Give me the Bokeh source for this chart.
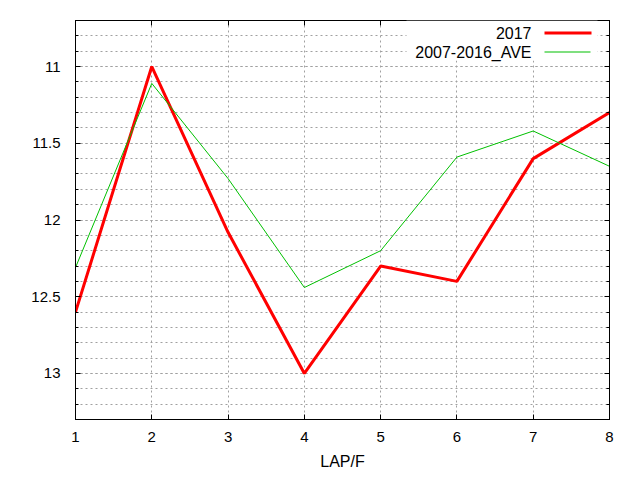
import numpy as np
from bokeh.plotting import figure
from bokeh.models import Range1d, FixedTicker, LinearAxis, Label, BoxAnnotation
from bokeh.embed import file_html
from bokeh.resources import INLINE

laps = [1, 2, 3, 4, 5, 6, 7, 8]
y2017 = [12.60, 11.00, 12.08, 13.00, 12.30, 12.40, 11.60, 11.30]
ave_2007_2016 = [12.31, 11.11, 11.73, 12.44, 12.20, 11.59, 11.42, 11.65]
series_names = ["2017", "2007-2016_AVE"]
y_major = [11, 11.5, 12, 12.5, 13]
y_minor = [round(v, 1) for v in np.arange(10.7, 13.31, 0.1)]
x_major = laps

FONT = "Liberation Sans"
FS = "15px"
FS_BIG = "16px"

p = figure(width=640, height=480, output_backend="svg", toolbar_location=None,
           x_range=Range1d(1, 8), y_range=Range1d(13.3, 10.7),
           min_border_left=75, min_border_right=31, min_border_top=20, min_border_bottom=61)
p.background_fill_color = "white"
p.border_fill_color = "white"
p.outline_line_color = "black"
p.outline_line_width = 1

p.xaxis.ticker = FixedTicker(ticks=x_major)
p.yaxis.ticker = FixedTicker(ticks=y_major, minor_ticks=y_minor)

for ax in (p.xaxis[0], p.yaxis[0]):
    ax.axis_line_color = "black"
    ax.major_tick_in = 5
    ax.major_tick_out = 0
    ax.minor_tick_in = 3
    ax.minor_tick_out = 0
    ax.major_tick_line_color = "black"
    ax.minor_tick_line_color = "black"
    ax.major_label_text_font = FONT
    ax.major_label_text_font_size = FS
    ax.major_label_text_color = "black"
    ax.axis_label_text_font = FONT
    ax.axis_label_text_font_size = FS_BIG
    ax.axis_label_text_font_style = "normal"
    ax.axis_label_text_color = "black"

p.xaxis.minor_tick_line_color = None
p.xaxis.major_label_standoff = 12
p.xaxis.axis_label = "LAP/F"
p.xaxis.axis_label_standoff = 8
p.yaxis.major_label_standoff = 15

# mirrored ticks (no labels)
top = LinearAxis(ticker=FixedTicker(ticks=x_major), major_tick_in=5, major_tick_out=0,
                 minor_tick_line_color=None, major_label_standoff=0,
                 major_label_overrides={t: "" for t in x_major}, axis_line_color="black")
right = LinearAxis(ticker=FixedTicker(ticks=y_major, minor_ticks=y_minor), major_tick_in=5,
                   major_tick_out=0, minor_tick_in=3, minor_tick_out=0, major_label_standoff=0,
                   major_label_overrides={t: "" for t in y_major}, axis_line_color="black")
p.add_layout(top, "above")
p.add_layout(right, "right")

for g in (p.xgrid[0], p.ygrid[0]):
    g.grid_line_color = "#a0a0a0"
    g.grid_line_dash = "2 3"
    g.grid_line_width = 1
p.ygrid.minor_grid_line_color = "#a0a0a0"
p.ygrid.minor_grid_line_dash = "2 3"

r1 = p.line(laps, y2017, line_color="#ff0000", line_width=3)
r2 = p.line(laps, ave_2007_2016, line_color="#00c000", line_width=1)

# gnuplot-style key: text right-aligned, sample to its right (screen units relative to frame)
p.add_layout(BoxAnnotation(left=331, right=522, top=399, bottom=359,
                           left_units="screen", right_units="screen",
                           top_units="screen", bottom_units="screen",
                           fill_color="white", fill_alpha=1, line_color=None))
p.add_layout(BoxAnnotation(left=469, right=516, top=388, bottom=385,
                           left_units="screen", right_units="screen",
                           top_units="screen", bottom_units="screen",
                           fill_color="#ff0000", fill_alpha=1, line_color=None))
p.add_layout(BoxAnnotation(left=469, right=515, top=368, bottom=367,
                           left_units="screen", right_units="screen",
                           top_units="screen", bottom_units="screen",
                           fill_color="#00c000", fill_alpha=1, line_color=None))
p.add_layout(Label(x=456, y=386.5, x_units="screen", y_units="screen", text=series_names[0],
                   text_align="right", text_baseline="middle", text_font=FONT,
                   text_font_size=FS_BIG, text_color="black"))
p.add_layout(Label(x=456, y=367.5, x_units="screen", y_units="screen", text=series_names[1],
                   text_align="right", text_baseline="middle", text_font=FONT,
                   text_font_size=FS_BIG, text_color="black"))

open("out.html", "w").write(file_html(p, INLINE))
